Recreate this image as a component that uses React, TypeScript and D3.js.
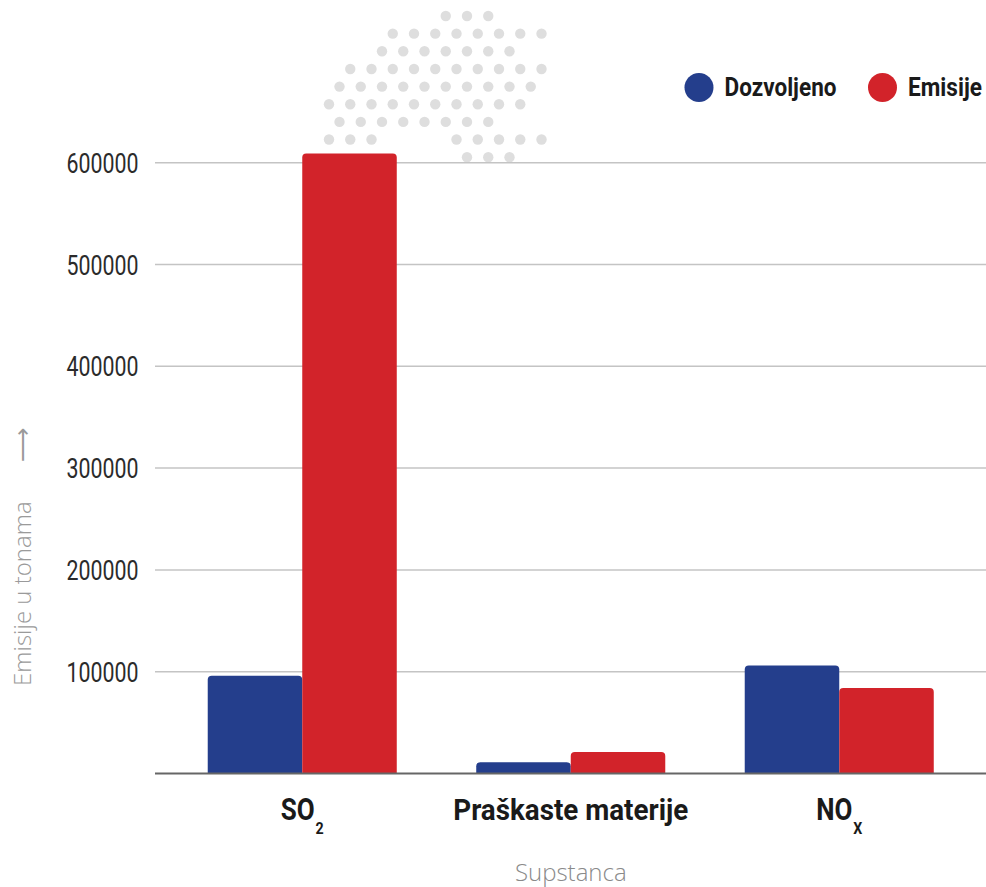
import React from "react";
import * as d3 from "d3";

const categories = ["SO2", "Praškaste materije", "NOx"];
const seriesNames = ["Dozvoljeno", "Emisije"];
const dozvoljeno = [96000, 11000, 106000];
const emisije = [609000, 21000, 84000];
const yTicks = [100000, 200000, 300000, 400000, 500000, 600000];
const colors = ["#243e8c", "#d2232a"];

// decorative dot pattern rows: [offset parity, column indices]
const dotRows: [number, number[]][] = [
  [1, [5, 6, 7]],
  [0, [3, 4, 5, 6, 7, 8, 9, 10]],
  [1, [2, 3, 4, 5, 6, 7, 8]],
  [0, [1, 2, 3, 4, 5, 6, 7, 8, 9, 10]],
  [1, [0, 1, 2, 3, 4, 5, 6, 7, 8, 9]],
  [0, [0, 1, 2, 3, 4, 5, 6, 7, 8, 9]],
  [1, [0, 1, 2, 3, 4, 5, 6, 7]],
  [0, [0, 1, 2, 6, 7, 8, 9, 10]],
  [1, [6, 7, 8]],
];

const W = 986;
const H = 887;
const condensed = "Roboto, 'DejaVu Sans', sans-serif";
const light = "'Open Sans', 'Noto Sans', sans-serif";

function topRoundedRect(x: number, y: number, w: number, h: number, r: number) {
  const rr = Math.min(r, h, w / 2);
  return `M${x},${y + h}V${y + rr}Q${x},${y} ${x + rr},${y}H${x + w - rr}Q${x + w},${y} ${x + w},${y + rr}V${y + h}Z`;
}

export default function App() {
  const y = d3.scaleLinear().domain([0, 600000]).range([773.5, 162.7]);
  const x0 = d3
    .scaleBand<string>()
    .domain(categories)
    .range([168, 973.5])
    .paddingInner(0.296)
    .paddingOuter(0.148);
  const x1 = d3.scaleBand<string>().domain(seriesNames).range([0, x0.bandwidth()]);
  const values = [dozvoljeno, emisije];

  const gridX0 = 155;
  const gridX1 = 986;
  const labelY = 820;

  return (
    <svg
      width={W}
      height={H}
      style={{ position: "absolute", left: 0, top: 0, background: "#fff" }}
    >
      {/* decorative dots */}
      <g fill="#dedede">
        {dotRows.map(([odd, cols], ri) =>
          cols.map((c) => (
            <circle
              key={`${ri}-${c}`}
              cx={(odd ? 339.5 : 329) + c * 21.25}
              cy={16 + ri * 17.65}
              r={5.2}
            />
          ))
        )}
      </g>

      {/* gridlines */}
      {yTicks.map((t) => (
        <g key={t}>
          <line x1={gridX0} x2={gridX1} y1={y(t)} y2={y(t)} stroke="#c4c4c4" strokeWidth={1.5} />
          <text
            x={66.5}
            y={y(t) + 10}
            textLength={72}
            lengthAdjust="spacingAndGlyphs"
            fontFamily={condensed}
            fontSize={28}
            fill="#2b2b2b"
          >
            {t}
          </text>
        </g>
      ))}

      {/* bars */}
      {categories.map((cat, ci) => (
        <g key={cat} transform={`translate(${x0(cat)},0)`}>
          {seriesNames.map((s, si) => {
            const v = values[si][ci];
            const top = y(v);
            return (
              <path
                key={s}
                d={topRoundedRect(x1(s)!, top, x1.bandwidth(), y(0) - top, 4)}
                fill={colors[si]}
              />
            );
          })}
        </g>
      ))}

      {/* baseline */}
      <line x1={gridX0} x2={gridX1} y1={y(0)} y2={y(0)} stroke="#666" strokeWidth={2} />

      {/* x labels */}
      {categories.map((cat) => {
        const cx = x0(cat)! + x0.bandwidth() / 2;
        const common = {
          fontFamily: condensed,
          fontWeight: 700,
          fill: "#1a1a1a",
        } as const;
        if (cat === "SO2" || cat === "NOx") {
          const main = cat === "SO2" ? "SO" : "NO";
          const sub = cat === "SO2" ? "2" : "X";
          const total = cat === "SO2" ? 43 : 46;
          return (
            <text
              key={cat}
              x={cx - total / 2}
              y={labelY}
              textLength={total}
              lengthAdjust="spacingAndGlyphs"
              {...common}
              fontSize={31}
            >
              {main}
              <tspan fontSize={17} dy={14} dx={1}>
                {sub}
              </tspan>
            </text>
          );
        }
        return (
          <text
            key={cat}
            x={cx - 117.5}
            y={labelY}
            textLength={235}
            lengthAdjust="spacingAndGlyphs"
            {...common}
            fontSize={30}
          >
            {cat}
          </text>
        );
      })}

      {/* x axis title */}
      <text
        x={x0("Praškaste materije")! + x0.bandwidth() / 2}
        y={881}
        textAnchor="middle"
        fontFamily={light}
        fontWeight={300}
        fontSize={24}
        fill="#8a8a8a"
      >
        Supstanca
      </text>

      {/* y axis title */}
      <text
        transform={`translate(31, 686) rotate(-90)`}
        textAnchor="start"
        fontFamily={light}
        fontWeight={300}
        fontSize={24}
        fill="#9a9a9a"
      >
        Emisije u tonama
      </text>
      <text
        transform={`translate(31, 462) rotate(-90)`}
        textAnchor="start"
        fontFamily={light}
        fontWeight={300}
        fontSize={24}
        fill="#9a9a9a"
      >
        {"\u27F6"}
      </text>

      {/* legend */}
      {seriesNames.map((s, i) => {
        const lx = i === 0 ? 699 : 882.5;
        const tw = i === 0 ? 112 : 74;
        return (
          <g key={s}>
            <circle cx={lx} cy={87.5} r={14.5} fill={colors[i]} />
            <text
              x={lx + 25.5}
              y={96}
              textLength={tw}
              lengthAdjust="spacingAndGlyphs"
              fontFamily={condensed}
              fontWeight={700}
              fontSize={25}
              fill="#1a1a1a"
            >
              {s}
            </text>
          </g>
        );
      })}
    </svg>
  );
}
